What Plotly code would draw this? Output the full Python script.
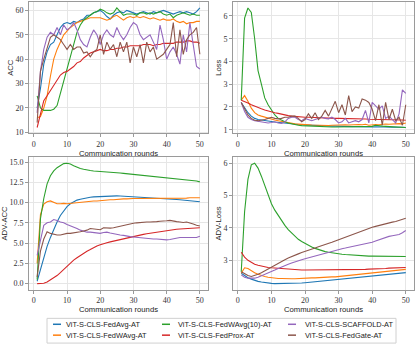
import plotly.graph_objects as go
from plotly.subplots import make_subplots

W, H = 415, 353

rounds = list(range(1, 51))

names = ['ViT-S-CLS-FedAvg-AT', 'ViT-S-CLS-FedWAvg-AT', 'ViT-S-CLS-FedWAvg(10)-AT',
         'ViT-S-CLS-FedProx-AT', 'ViT-S-CLS-SCAFFOLD-AT', 'ViT-S-CLS-FedGate-AT']
colors = ['#1f77b4', '#ff7f0e', '#2ca02c', '#d62728', '#9467bd', '#8c564b']

# ---- ACC ----
acc_fedavg = [20, 28, 38, 43, 46, 47, 50, 53, 54.5, 55, 54.5, 55.5, 55, 56, 56.5, 58, 58, 59, 59.5, 60,
              59, 57.5, 56.5, 58, 59, 59.5, 59, 60, 59.5, 59, 58.5, 59, 59.5, 59, 58.5, 59.5, 59, 59.5, 60, 59.5,
              59, 58.5, 59, 59.5, 59, 59.5, 59, 58.5, 59.5, 61]
acc_fedwavg = [16, 16.5, 20, 25, 33, 40, 44, 47, 50, 51.5, 53, 54, 55, 55.5, 56, 56.5, 57, 57, 57, 57,
               56.5, 56, 56.5, 57.5, 58, 57, 56, 57, 57.5, 57, 57.5, 57, 57.5, 57, 56.5, 57, 56.5, 56, 56.5, 56,
               56, 56.5, 55.5, 55, 55.5, 54.5, 55, 55, 55.5, 55.5]
acc_fedwavg10 = [25, 20, 19, 19, 19, 19.5, 21, 26, 31, 36, 41, 46, 51, 54, 56, 57, 58, 59, 59.5, 60.5,
                 60, 59, 58.5, 59, 61, 59.5, 58, 58.5, 58.5, 58.5, 58, 59, 59, 58.5, 59, 58.5, 59, 59.5, 58.5, 58,
                 58.5, 57, 58, 58.5, 59, 58.5, 58, 58.5, 58, 58]
acc_fedprox = [12, 18, 23, 25, 27, 29, 31.5, 33.5, 34.5, 35, 36, 37, 38.5, 39, 40.5, 41.5, 42.5, 43, 43.5, 44,
               43.5, 43.5, 44, 44, 44.5, 44.5, 45, 45, 45.5, 45.5, 45.5, 45.5, 46, 46, 46, 45.5, 46, 46, 46.5, 46.5,
               46.5, 46.5, 47, 47, 47, 47.5, 47.5, 47, 47, 46.5]
acc_scaffold = [18, 35, 44, 49, 51, 50, 53, 50, 54, 52, 53, 55, 52, 48, 46, 45, 49, 52, 50, 46,
                50, 52, 50, 49, 53, 50, 48, 50, 53, 55, 54, 50, 48, 49, 50, 47, 44, 54, 48, 40,
                43, 45, 42, 38, 50, 43, 55, 46, 37, 36]
acc_fedgate = [14, 35, 40, 45, 49, 50, 49, 48, 46, 44, 46, 44, 45, 45, 42.5, 43, 41, 43, 44, 50,
               42, 47, 44, 46, 41, 47, 43, 47, 38.5, 45, 41, 46, 38.5, 47, 43, 45, 40, 41, 42, 44,
               46, 55, 41, 52, 42, 48, 50, 51, 53, 42]

# ---- Loss ----
loss_fedavg = [2.2, 1.95, 1.75, 1.6, 1.5, 1.45, 1.42, 1.4, 1.38, 1.36, 1.34, 1.32, 1.3, 1.28, 1.26, 1.25, 1.24,
               1.23, 1.22, 1.21, 1.2, 1.2, 1.19, 1.18, 1.18, 1.17, 1.17, 1.16, 1.16, 1.15, 1.15, 1.14, 1.15, 1.14,
               1.14, 1.13, 1.14, 1.13, 1.13, 1.12, 1.13, 1.12, 1.12, 1.11, 1.12, 1.11, 1.11, 1.12, 1.11, 1.1]
loss_fedwavg = [2.3, 2.5, 2.25, 1.95, 1.75, 1.65, 1.6, 1.55, 1.5, 1.47, 1.43, 1.4, 1.37, 1.33, 1.3, 1.28, 1.26,
                1.25, 1.23, 1.22, 1.22, 1.21, 1.2, 1.2, 1.19, 1.2, 1.19, 1.2, 1.21, 1.2, 1.2, 1.22, 1.21, 1.22,
                1.24, 1.23, 1.22, 1.24, 1.2, 1.22, 1.23, 1.22, 1.24, 1.25, 1.24, 1.26, 1.25, 1.27, 1.26, 1.3]
loss_fedwavg10 = [2.3, 5.9, 6.35, 6.15, 5.0, 3.6, 3.0, 2.4, 2.1, 1.85, 1.65, 1.5, 1.42, 1.35, 1.3, 1.26, 1.23,
                  1.2, 1.18, 1.17, 1.16, 1.15, 1.15, 1.14, 1.13, 1.14, 1.13, 1.12, 1.12, 1.12, 1.13, 1.12, 1.12,
                  1.13, 1.12, 1.13, 1.14, 1.13, 1.14, 1.15, 1.2, 1.17, 1.16, 1.15, 1.14, 1.15, 1.13, 1.12, 1.13, 1.1]
loss_fedprox = [2.3, 2.25, 2.18, 2.1, 2.03, 1.97, 1.92, 1.87, 1.82, 1.79, 1.75, 1.72, 1.68, 1.65, 1.62, 1.6, 1.58,
                1.57, 1.56, 1.55, 1.55, 1.54, 1.53, 1.53, 1.52, 1.52, 1.51, 1.51, 1.5, 1.5, 1.5, 1.49, 1.49, 1.48,
                1.48, 1.48, 1.47, 1.47, 1.46, 1.46, 1.46, 1.45, 1.45, 1.45, 1.44, 1.44, 1.44, 1.43, 1.43, 1.42]
loss_scaffold = [2.2, 1.8, 1.55, 1.45, 1.4, 1.38, 1.35, 1.33, 1.3, 1.32, 1.35, 1.3, 1.28, 1.35, 1.5, 1.55, 1.55,
                 1.45, 1.4, 1.5, 1.45, 1.4, 1.45, 1.5, 1.55, 1.5, 1.48, 1.55, 1.45, 1.3, 1.35, 1.5, 1.3, 1.35,
                 1.4, 1.35, 1.45, 1.85, 1.3, 2.2, 2.05, 1.9, 2.05, 1.5, 1.6, 1.45, 1.3, 1.7, 2.75, 2.6]
loss_fedgate = [2.2, 1.9, 1.65, 1.5, 1.42, 1.4, 1.42, 1.45, 1.5, 1.55, 1.5, 1.48, 1.5, 1.55, 1.55, 1.6, 1.6,
                1.5, 1.35, 1.45, 1.7, 1.5, 1.75, 1.45, 1.6, 1.85, 1.6, 1.9, 2.25, 1.75, 2.1, 1.65, 2.5, 1.8,
                2.0, 1.95, 2.35, 2.3, 2.2, 1.9, 1.4, 2.1, 1.2, 2.2, 1.45, 1.9, 1.4, 1.55, 1.2, 2.1]

# ---- ADV-ACC ----
adv_acc_fedavg = [0.3, 1.8, 3.3, 4.6, 5.7, 6.7, 7.6, 8.4, 9.0, 9.5, 9.85, 10.1, 10.3, 10.4, 10.5, 10.6, 10.65,
                  10.7, 10.72, 10.75, 10.8, 10.82, 10.83, 10.83, 10.82, 10.8, 10.78, 10.76, 10.74, 10.72, 10.7,
                  10.68, 10.65, 10.62, 10.6, 10.57, 10.54, 10.52, 10.5, 10.47, 10.44, 10.41, 10.38, 10.35,
                  10.32, 10.28, 10.24, 10.2, 10.16, 10.1]
adv_acc_fedwavg = [2.5, 8.5, 9.8, 10.1, 10.2, 10.0, 9.85, 9.85, 9.9, 9.85, 9.9, 9.95, 10.0, 10.05, 10.1, 10.1,
                   10.15, 10.2, 10.2, 10.25, 10.3, 10.3, 10.35, 10.35, 10.4, 10.4, 10.45, 10.45, 10.5, 10.5,
                   10.5, 10.5, 10.5, 10.5, 10.5, 10.5, 10.5, 10.5, 10.5, 10.5, 10.5, 10.5, 10.55, 10.55, 10.55,
                   10.55, 10.6, 10.6, 10.6, 10.6]
adv_acc_fedwavg10 = [0.5, 8.0, 10.5, 12.3, 13.3, 13.9, 14.3, 14.6, 14.8, 14.85, 14.75, 14.55, 14.35, 14.2, 14.1,
                     14.0, 13.95, 13.9, 13.88, 13.85, 13.82, 13.78, 13.75, 13.72, 13.68, 13.65, 13.6, 13.56,
                     13.52, 13.48, 13.44, 13.4, 13.36, 13.32, 13.28, 13.24, 13.2, 13.15, 13.1, 13.05, 13.0,
                     12.97, 12.93, 12.89, 12.85, 12.8, 12.75, 12.7, 12.65, 12.55]
adv_acc_fedprox = [0.0, 0.02, 0.05, 0.2, 0.45, 0.7, 1.0, 1.35, 1.75, 2.2, 2.55, 2.9, 3.2, 3.5, 3.75, 4.0, 4.2,
                   4.45, 4.65, 4.8, 4.95, 5.05, 5.15, 5.25, 5.35, 5.45, 5.55, 5.65, 5.75, 5.85, 5.92, 6.0, 6.08,
                   6.15, 6.22, 6.3, 6.37, 6.44, 6.5, 6.55, 6.6, 6.65, 6.7, 6.74, 6.78, 6.81, 6.84, 6.86, 6.88, 6.9]
adv_acc_scaffold = [3.5, 5.2, 7.2, 7.5, 7.6, 7.9, 7.8, 7.6, 7.5, 7.3, 7.1, 6.95, 6.8, 6.6, 6.5, 6.35, 6.35, 6.3,
                    6.25, 6.2, 6.3, 6.35, 6.25, 6.15, 6.05, 6.0, 5.95, 5.85, 5.8, 5.75, 5.7, 5.7, 5.65, 5.6, 5.55,
                    5.5, 5.5, 5.45, 5.45, 5.4, 5.45, 5.55, 5.65, 5.7, 5.7, 5.7, 5.7, 5.65, 5.7, 5.85]
adv_acc_fedgate = [0.8, 4.0, 5.5, 6.4, 6.2, 6.1, 6.0, 6.0, 6.1, 6.2, 6.2, 6.25, 6.3, 6.4, 6.5, 6.6, 6.8, 6.75,
                   6.7, 6.65, 6.9, 6.85, 6.85, 6.9, 7.0, 7.1, 7.2, 7.25, 7.4, 7.45, 7.5, 7.55, 7.55, 7.6, 7.6,
                   7.6, 7.65, 7.7, 7.7, 7.75, 7.8, 7.7, 7.65, 7.6, 7.55, 7.6, 7.5, 7.35, 7.2, 7.1]

# ---- ADV-Loss ----
adv_loss_fedavg = [2.6, 2.52, 2.46, 2.42, 2.38, 2.35, 2.33, 2.31, 2.3, 2.29, 2.28, 2.28, 2.28, 2.28, 2.28, 2.29,
                   2.29, 2.3, 2.3, 2.31, 2.32, 2.33, 2.34, 2.35, 2.36, 2.36, 2.37, 2.38, 2.39, 2.4, 2.41, 2.42,
                   2.43, 2.44, 2.45, 2.46, 2.47, 2.48, 2.49, 2.5, 2.51, 2.52, 2.53, 2.54, 2.55, 2.56, 2.57, 2.59,
                   2.6, 2.62]
adv_loss_fedwavg = [2.6, 2.77, 2.75, 2.68, 2.62, 2.57, 2.53, 2.5, 2.48, 2.46, 2.45, 2.44, 2.44, 2.43, 2.43,
                    2.43, 2.43, 2.44, 2.44, 2.45, 2.45, 2.46, 2.46, 2.47, 2.47, 2.48, 2.48, 2.49, 2.49, 2.5,
                    2.51, 2.52, 2.53, 2.54, 2.55, 2.56, 2.57, 2.58, 2.59, 2.6, 2.61, 2.62, 2.63, 2.64, 2.65,
                    2.66, 2.67, 2.68, 2.7, 2.72]
adv_loss_fedwavg10 = [2.65, 4.5, 5.5, 5.95, 6.0, 5.85, 5.6, 5.3, 5.0, 4.75, 4.55, 4.38, 4.22, 4.08, 3.95, 3.84,
                      3.74, 3.65, 3.58, 3.52, 3.46, 3.41, 3.37, 3.33, 3.3, 3.27, 3.25, 3.23, 3.21, 3.2, 3.19,
                      3.18, 3.17, 3.16, 3.15, 3.15, 3.14, 3.14, 3.13, 3.13, 3.13, 3.12, 3.12, 3.12, 3.12, 3.12,
                      3.12, 3.12, 3.12, 3.12]
adv_loss_fedprox = [3.25, 3.1, 3.0, 2.93, 2.88, 2.85, 2.82, 2.8, 2.78, 2.77, 2.76, 2.75, 2.74, 2.73, 2.72, 2.72,
                    2.71, 2.71, 2.7, 2.7, 2.7, 2.7, 2.7, 2.7, 2.7, 2.7, 2.7, 2.7, 2.7, 2.7, 2.7, 2.71, 2.71, 2.71,
                    2.71, 2.72, 2.72, 2.72, 2.73, 2.73, 2.74, 2.74, 2.75, 2.75, 2.76, 2.76, 2.77, 2.77, 2.78, 2.78]
adv_loss_scaffold = [2.55, 2.48, 2.45, 2.44, 2.45, 2.48, 2.52, 2.56, 2.6, 2.65, 2.7, 2.75, 2.8, 2.84, 2.88,
                     2.92, 2.96, 2.99, 3.02, 3.05, 3.08, 3.1, 3.13, 3.16, 3.19, 3.22, 3.25, 3.28, 3.31, 3.34,
                     3.36, 3.38, 3.4, 3.42, 3.44, 3.46, 3.48, 3.5, 3.53, 3.56, 3.6, 3.64, 3.68, 3.71, 3.74,
                     3.76, 3.78, 3.8, 3.85, 3.92]
adv_loss_fedgate = [2.65, 2.58, 2.53, 2.5, 2.53, 2.57, 2.62, 2.68, 2.74, 2.8, 2.86, 2.92, 2.97, 3.02, 3.07, 3.12,
                    3.16, 3.2, 3.24, 3.27, 3.3, 3.34, 3.38, 3.42, 3.45, 3.48, 3.52, 3.56, 3.6, 3.64, 3.68, 3.72,
                    3.76, 3.8, 3.84, 3.88, 3.92, 3.96, 4.0, 4.02, 4.05, 4.08, 4.11, 4.13, 4.15, 4.18, 4.2, 4.23,
                    4.26, 4.3]

panels = [
    ('ACC', [acc_fedavg, acc_fedwavg, acc_fedwavg10, acc_fedprox, acc_scaffold, acc_fedgate]),
    ('Loss', [loss_fedavg, loss_fedwavg, loss_fedwavg10, loss_fedprox, loss_scaffold, loss_fedgate]),
    ('ADV-ACC', [adv_acc_fedavg, adv_acc_fedwavg, adv_acc_fedwavg10, adv_acc_fedprox, adv_acc_scaffold,
                 adv_acc_fedgate]),
    ('ADV-Loss', [adv_loss_fedavg, adv_loss_fedwavg, adv_loss_fedwavg10, adv_loss_fedprox, adv_loss_scaffold,
                  adv_loss_fedgate]),
]

y_ticks = {
    'ACC': [10, 20, 30, 40, 50, 60],
    'Loss': [1, 2, 3, 4, 5, 6],
    'ADV-ACC': [0.0, 2.5, 5.0, 7.5, 10.0, 12.5, 15.0],
    'ADV-Loss': [3, 4, 5, 6],
}
y_fmt = {'ACC': 'd', 'Loss': 'd', 'ADV-ACC': '.1f', 'ADV-Loss': 'd'}
x_ticks = [0, 10, 20, 30, 40, 50]


def px_x(p):
    return p / W


def px_y(p):
    return 1 - p / H


def padded(vals_list):
    lo = min(min(v) for v in vals_list)
    hi = max(max(v) for v in vals_list)
    pad = (hi - lo) * 0.05
    return [lo - pad, hi + pad]


fig = make_subplots(rows=2, cols=2)

for i, (label, series) in enumerate(panels):
    row, col = i // 2 + 1, i % 2 + 1
    for name, color, vals in zip(names, colors, series):
        fig.add_trace(
            go.Scatter(x=rounds, y=vals, mode='lines', name=name,
                       line=dict(color=color, width=1.1), showlegend=False),
            row=row, col=col,
        )

# panel boxes in pixels (left, right, top, bottom)
boxes = [(29, 208, 2, 135), (233, 414, 2, 135), (29, 208, 159, 293), (233, 414, 159, 293)]

serif = 'Liberation Serif'
sans = 'Liberation Sans'
axis_style = dict(showline=True, mirror=True, linecolor='#9a9a9a', linewidth=1,
                  showgrid=True, gridcolor='#e6e6e6', gridwidth=1, zeroline=False,
                  ticks='outside', ticklen=3, tickcolor='#9a9a9a', tickwidth=1,
                  tickfont=dict(family=serif, size=8, color='#333333'))

for i, (label, series) in enumerate(panels):
    left, right, top, bottom = boxes[i]
    xa = 'xaxis' if i == 0 else f'xaxis{i + 1}'
    ya = 'yaxis' if i == 0 else f'yaxis{i + 1}'
    fig.update_layout({
        xa: dict(domain=[px_x(left), px_x(right)], range=[-1.45, 52.45],
                 tickvals=x_ticks,
                 title=dict(text='Communication rounds', standoff=2,
                            font=dict(family=sans, size=7.7, color='#222222')),
                 **axis_style),
        ya: dict(domain=[px_y(bottom), px_y(top)], range=padded(series),
                 tickvals=y_ticks[label], tickformat=y_fmt[label],
                 title=dict(text=label, standoff=0,
                            font=dict(family=sans, size=7.7, color='#222222')),
                 **axis_style),
    })

# legend drawn by hand to mimic matplotlib's compact 3-column layout
leg_left, leg_right, leg_top, leg_bottom = 47, 396, 322, 347
fig.add_shape(type='rect', xref='paper', yref='paper',
              x0=px_x(leg_left), x1=px_x(leg_right), y0=px_y(leg_bottom), y1=px_y(leg_top),
              line=dict(color='#d0d0d0', width=1), fillcolor='white')
col_line_x = [53, 162, 288]
col_text_x = [64, 176, 303]
row_y = [328, 339]
for k, (name, color) in enumerate(zip(names, colors)):
    c, r = k // 2, k % 2
    fig.add_shape(type='line', xref='paper', yref='paper',
                  x0=px_x(col_line_x[c]), x1=px_x(col_line_x[c] + 8),
                  y0=px_y(row_y[r]), y1=px_y(row_y[r]),
                  line=dict(color=color, width=1.5))
    fig.add_annotation(text=name, xref='paper', yref='paper',
                       x=px_x(col_text_x[c]), y=px_y(row_y[r]),
                       xanchor='left', yanchor='middle', showarrow=False,
                       font=dict(family=sans, size=7.4, color='#222222'))

fig.update_layout(
    width=W, height=H,
    margin=dict(l=0, r=0, t=0, b=0),
    plot_bgcolor='white', paper_bgcolor='white',
    showlegend=False,
)

# drop the browser's default 8px body margin so the figure fills the window
fig.write_html("out.html", config={'displayModeBar': False},
               post_script="document.body.style.margin='0';")
